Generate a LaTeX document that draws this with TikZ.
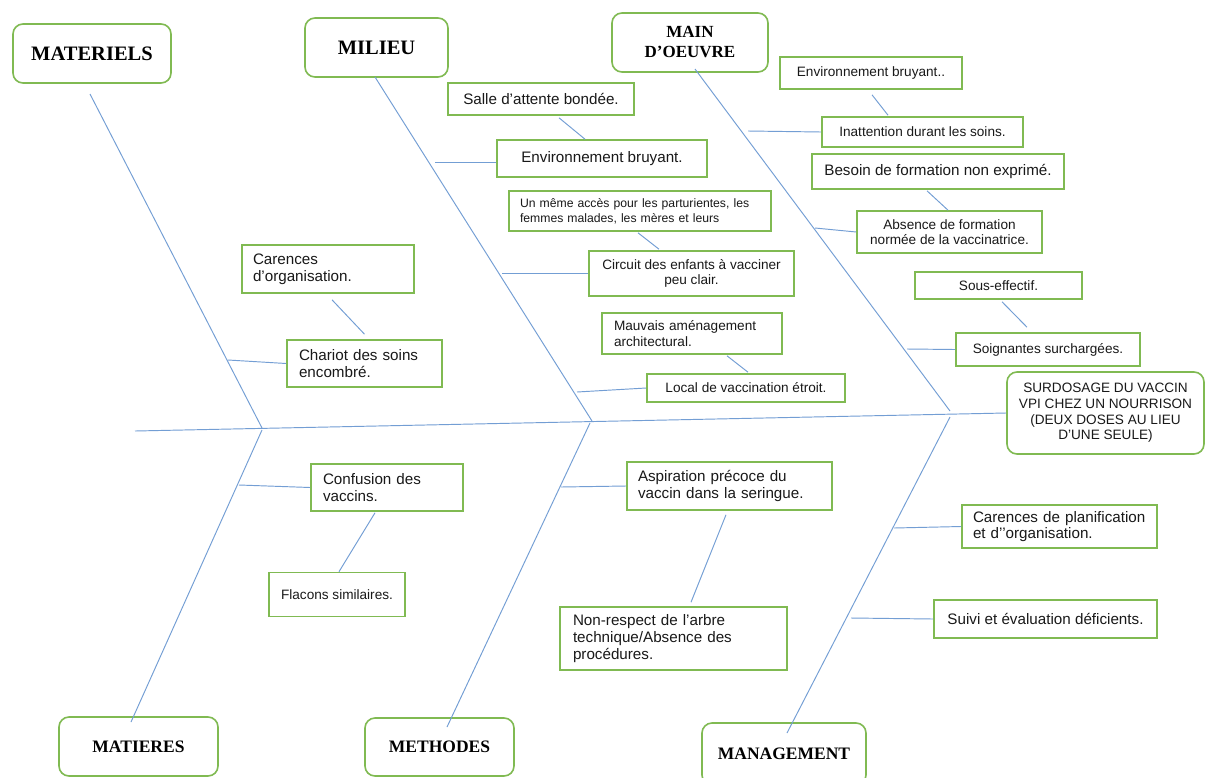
\documentclass[tikz,border=0pt]{standalone}
\usepackage{fontspec}
\setmainfont{Liberation Serif}
\newfontfamily\arialf{Liberation Sans}
\usetikzlibrary{calc}
\definecolor{bone}{RGB}{115,158,212}
\definecolor{bgreen}{RGB}{128,186,82}
\definecolor{txt}{RGB}{25,25,25}
\tikzset{
  cause/.style={draw=bgreen, line width=1.6pt, fill=white, inner sep=0pt, text=txt,
    font=\arialf\fontsize{13.6}{15.6}\selectfont, align=center},
  bigtxt/.style={font=\arialf\fontsize{15.2}{16.8}\selectfont},
  smalltxt/.style={font=\arialf\fontsize{12.2}{15}\selectfont},
  cat/.style={draw=bgreen, line width=1.6pt, rounded corners=10pt, fill=white, inner sep=0pt,
    align=center, text=black, font=\bfseries\fontsize{17.5}{20}\selectfont},
  bigcat/.style={font=\bfseries\fontsize{20.5}{24}\selectfont},
  bonel/.style={draw=bone, line width=0.95pt},
}
\begin{document}
\begin{tikzpicture}[x=1pt,y=-1pt]
\useasboundingbox[fill=white] (0,0) rectangle (1205,777);

% category boxes
\node[cat,bigcat,minimum width=158pt,minimum height=59pt] (cmat) at (92,53.5) {MATERIELS};
\node[cat,bigcat,minimum width=143pt,minimum height=59pt] (cmil) at (376.5,47.5) {MILIEU};
\node[cat,font=\bfseries\fontsize{17}{20}\selectfont,minimum width=156pt,minimum height=59pt] (cmo) at (690,42.5) {MAIN\\D’OEUVRE};
\node[cat,minimum width=159pt,minimum height=59pt] (cmtr) at (138.5,746.5) {MATIERES};
\node[cat,minimum width=149pt,minimum height=58pt] (cmeth) at (439.5,747) {METHODES};
\node[cat,minimum width=164pt,minimum height=62pt] (cmgmt) at (784,754) {MANAGEMENT};

% effect
\node[cause,rounded corners=10pt,minimum width=197pt,minimum height=82pt] (effect) at (1105.5,413)
  {SURDOSAGE DU VACCIN\\VPI CHEZ UN NOURRISON\\(DEUX DOSES AU LIEU\\D’UNE SEULE)};

% spine junction coordinates
\coordinate (s0) at (135,431);
\coordinate (jmat) at (262,428);
\coordinate (jmil) at (592,421);
\coordinate (jmo) at (950,411);
\coordinate (jmtr) at (262,430);
\coordinate (jmeth) at (590,423);
\coordinate (jmgmt) at (950,417);
\coordinate (tmat) at (90,94);
\coordinate (tmil) at (375,77);
\coordinate (tmo) at (695,69);
\coordinate (tmtr) at (131,722);
\coordinate (tmeth) at (447,727);
\coordinate (tmgmt) at (787,733);

\draw[bonel] (s0) -- (effect.west);
\draw[bonel] (tmat) -- (jmat);
\draw[bonel] (tmil) -- (jmil);
\draw[bonel] (tmo) -- (jmo);
\draw[bonel] (jmtr) -- (tmtr);
\draw[bonel] (jmeth) -- (tmeth);
\draw[bonel] (jmgmt) -- (tmgmt);

% MILIEU causes
\node[cause,bigtxt,minimum width=186pt,minimum height=32pt] (salle) at (541,99) {Salle d’attente bondée.};
\node[cause,bigtxt,minimum width=210pt,minimum height=37pt] (milenv) at (602,158.5) {Environnement bruyant.};
\node[cause,smalltxt,align=left,text width=240pt,minimum width=262pt,minimum height=40pt] (acces) at (640,211)
  {Un même accès pour les parturientes, les\\femmes malades, les mères et leurs};
\node[cause,minimum width=205pt,minimum height=45pt] (circuit) at (691.5,273.5) {Circuit des enfants à vacciner\\peu clair.};
\node[cause,align=left,text width=156pt,minimum width=180pt,minimum height=41pt] (mauvais) at (692,333.5) {Mauvais aménagement\\architectural.};
\node[cause,minimum width=198pt,minimum height=28pt] (local) at (746,388) {Local de vaccination étroit.};

\coordinate (pmilenv) at (435,162);
\coordinate (pcircuit) at (502,273);
\coordinate (plocal) at (577,392);
\draw[bonel] (pmilenv) -- (pmilenv -| milenv.west);
\draw[bonel] (pcircuit) -- (pcircuit -| circuit.west);
\draw[bonel] (plocal) -- (local.west);
\draw[bonel] ($(salle.south)+(18,2)$) -- ($(milenv.north)+(-17,0)$);
\draw[bonel] ($(acces.south)+(-2,1)$) -- ($(circuit.north)+(-32.5,-1)$);
\draw[bonel] ($(mauvais.south)+(35,1)$) -- ($(local.north)+(2,-1)$);

% MATERIELS causes
\node[cause,bigtxt,align=left,text width=150pt,minimum width=172pt,minimum height=48pt] (carorg) at (328,269) {Carences\\d’organisation.};
\node[cause,bigtxt,align=left,text width=131pt,minimum width=155pt,minimum height=47pt] (chariot) at (364.5,363.5) {Chariot des soins\\encombré.};
\coordinate (pchariot) at (228,360);
\draw[bonel] (pchariot) -- (chariot.west);
\draw[bonel] ($(carorg.south)+(4,6)$) -- ($(chariot.north)+(0,-5)$);

% MAIN D'OEUVRE causes
\node[cause,minimum width=182pt,minimum height=32pt] (moenv) at (871,73) {Environnement bruyant..};
\node[cause,minimum width=201pt,minimum height=30pt] (inatt) at (922.5,132) {Inattention durant les soins.};
\node[cause,bigtxt,minimum width=252pt,minimum height=35pt] (besoin) at (938,171.5) {Besoin de formation non exprimé.};
\node[cause,minimum width=185pt,minimum height=42pt] (absence) at (949.5,232) {Absence de formation\\normée de la vaccinatrice.};
\node[cause,minimum width=167pt,minimum height=27pt] (sous) at (998.5,285.5) {Sous-effectif.};
\node[cause,minimum width=184pt,minimum height=33pt] (soign) at (1048,349.5) {Soignantes surchargées.};
\coordinate (pinatt) at (748,131);
\coordinate (pabsence) at (815,228);
\coordinate (psoign) at (907,349);
\draw[bonel] (pinatt) -- (inatt.west);
\draw[bonel] (pabsence) -- (absence.west);
\draw[bonel] (psoign) -- (soign.west);
\draw[bonel] ($(moenv.south)+(1,5)$) -- ($(inatt.north)+(-34.5,-1)$);
\draw[bonel] ($(besoin.south)+(-11,1)$) -- ($(absence.north)+(-1.5,0)$);
\draw[bonel] ($(sous.south)+(3.5,2)$) -- ($(soign.north)+(-21,-5)$);

% MATIERES causes
\node[cause,bigtxt,align=left,text width=128pt,minimum width=152pt,minimum height=47pt] (conf) at (387,487.5) {Confusion des\\vaccins.};
\node[cause,minimum width=136pt,minimum height=44pt] (flacons) at (337,594.5) {Flacons similaires.};
\coordinate (pconf) at (239,485);
\draw[bonel] (pconf) -- (conf.west);
\draw[bonel] ($(conf.south)+(-12,1)$) -- ($(flacons.north)+(2,0)$);

% METHODES causes
\node[cause,bigtxt,align=left,text width=183pt,minimum width=205pt,minimum height=48pt] (asp) at (729.5,486) {Aspiration précoce du\\vaccin dans la seringue.};
\node[cause,bigtxt,align=left,text width=201pt,minimum width=227pt,minimum height=63pt] (nonresp) at (673.5,638.5) {Non-respect de l’arbre\\technique/Absence des\\procédures.};
\coordinate (pasp) at (561,487);
\draw[bonel] (pasp) -- (asp.west);
\draw[bonel] ($(asp.south)+(-3.5,4)$) -- ($(nonresp.north)+(17.5,-4)$);

% MANAGEMENT causes
\node[cause,bigtxt,align=left,text width=173pt,minimum width=195pt,minimum height=43pt] (carplan) at (1059.5,526.5) {Carences de planification\\et d’’organisation.};
\node[cause,bigtxt,minimum width=223pt,minimum height=38pt] (suivi) at (1045.5,619) {Suivi et évaluation déficients.};
\coordinate (pcarplan) at (894,528);
\coordinate (psuivi) at (851,618);
\draw[bonel] (pcarplan) -- (carplan.west);
\draw[bonel] (psuivi) -- (suivi.west);
\end{tikzpicture}
\end{document}
